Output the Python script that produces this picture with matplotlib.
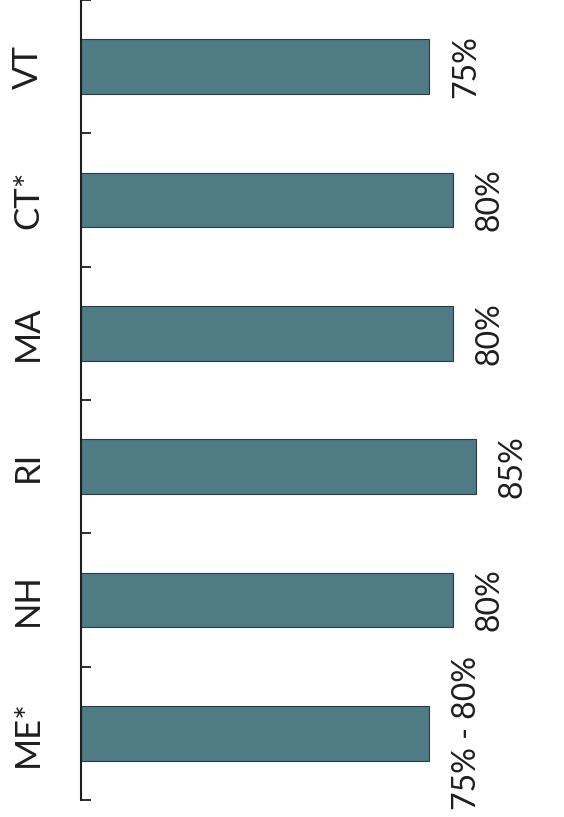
import numpy as np
import matplotlib.pyplot as plt

# States, bottom to top
states = ['ME*', 'NH', 'RI', 'MA', 'CT*', 'VT']
rates = [75, 80, 85, 80, 80, 75]
rate_labels = ['75% - 80%', '80%', '85%', '80%', '80%', '75%']

BAR_COLOR = '#4f7b84'
INK = '#1e1e1e'

plt.rcParams['font.family'] = ['Lato', 'DejaVu Sans']

fig = plt.figure(figsize=(5.64, 8.17), dpi=100)
ax = fig.add_axes([81 / 564, 17 / 817, 1 - 81 / 564, 800 / 817])

y = np.arange(len(states))
ax.barh(y, rates, height=0.41, color=BAR_COLOR, edgecolor='#2a3c40', linewidth=0.8)

ax.set_xlim(0, 104)
ax.set_ylim(-0.5, len(states) - 0.5)

# ticks sit between the bars, names sit on the bars
ax.set_yticks(y)
ax.set_yticklabels(states, rotation=90, va='center', ha='center', fontsize=25, color=INK)
ax.tick_params(axis='y', which='major', length=0, pad=38)
ax.set_yticks(np.arange(-0.5, len(states)), minor=True)
ax.tick_params(axis='y', which='minor', direction='in', length=7, width=1.3, color=INK)
ax.set_xticks([])

for side in ['top', 'right', 'bottom']:
    ax.spines[side].set_visible(False)
ax.spines['left'].set_linewidth(1.5)
ax.spines['left'].set_color(INK)

for yi, val, lab in zip(y, rates, rate_labels):
    ax.annotate(lab, (val, yi), xytext=(16, 0), textcoords='offset points',
                rotation=90, ha='left', va='center', fontsize=23, color=INK)

fig.savefig('out.png', dpi=100)
